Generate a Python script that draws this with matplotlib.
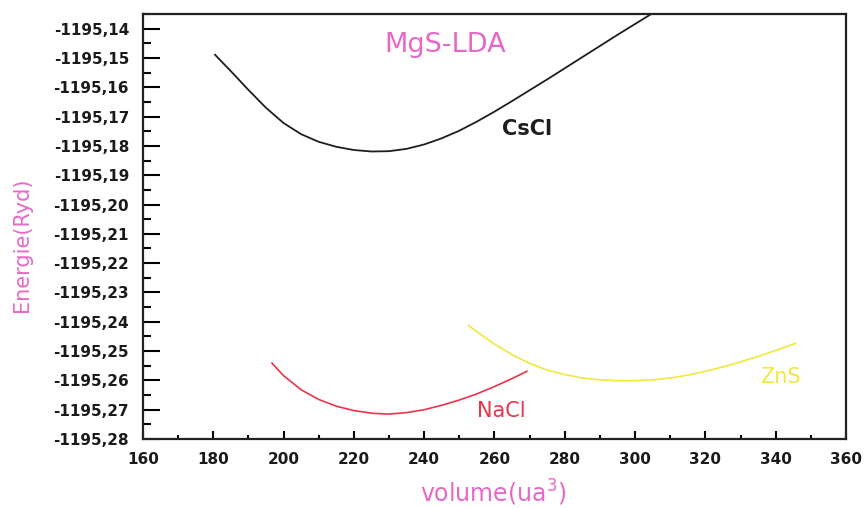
import matplotlib
matplotlib.use("Agg")
import matplotlib.pyplot as plt
from matplotlib.ticker import MultipleLocator, FuncFormatter

plt.rcParams['font.family'] = ['DejaVu Sans']
plt.rcParams['mathtext.default'] = 'regular'

# total energy vs. volume for the three MgS phases (LDA)
vol_cscl = [180.5, 185, 190, 195, 200, 205, 210, 215, 220, 225, 230, 235, 240, 245,
            250, 255, 260, 265, 270, 275, 280, 285, 290, 295, 300, 305]
e_cscl = [-1195.1489, -1195.1545, -1195.1609, -1195.1670, -1195.1722, -1195.1760,
          -1195.1786, -1195.1803, -1195.1814, -1195.1819, -1195.1818, -1195.1810,
          -1195.1795, -1195.1774, -1195.1748, -1195.1717, -1195.1683, -1195.1647,
          -1195.1610, -1195.1573, -1195.1535, -1195.1497, -1195.1459, -1195.1421,
          -1195.1384, -1195.1347]

vol_nacl = [196.7, 200, 205, 210, 215, 220, 225, 230, 235, 240, 245, 250, 255, 260,
            265, 269.2]
e_nacl = [-1195.2541, -1195.2584, -1195.2632, -1195.2665, -1195.2688, -1195.2703,
          -1195.2712, -1195.2715, -1195.2710, -1195.2700, -1195.2685, -1195.2667,
          -1195.2646, -1195.2621, -1195.2594, -1195.2569]

vol_zns = [252.6, 255, 260, 265, 270, 275, 280, 285, 290, 295, 300, 305, 310, 315,
           320, 325, 330, 335, 340, 345.6]
e_zns = [-1195.2412, -1195.2434, -1195.2476, -1195.2512, -1195.2542, -1195.2565,
         -1195.2580, -1195.2592, -1195.2598, -1195.2601, -1195.2601, -1195.2598,
         -1195.2592, -1195.2582, -1195.2569, -1195.2554, -1195.2537, -1195.2518,
         -1195.2498, -1195.2474]

pink = '#e868c8'

fig = plt.figure(figsize=(8.65, 5.08), dpi=100)
ax = fig.add_axes([0.1653, 0.1358, 0.8127, 0.8366])

ax.plot(vol_cscl, e_cscl, color='#1e1e1e', lw=1.3)
ax.plot(vol_nacl, e_nacl, color='#e8344c', lw=1.2)
ax.plot(vol_zns, e_zns, color='#f0e83c', lw=1.2)

ax.set_xlim(160, 360)
ax.set_ylim(-1195.28, -1195.135)

ax.xaxis.set_major_locator(MultipleLocator(20))
ax.xaxis.set_minor_locator(MultipleLocator(10))
ax.yaxis.set_major_locator(MultipleLocator(0.01))
ax.yaxis.set_minor_locator(MultipleLocator(0.005))
ax.yaxis.set_major_formatter(FuncFormatter(lambda v, p: f"{v:.2f}".replace('.', ',')))

ax.tick_params(axis='y', which='major', direction='in', length=12, width=1.5, pad=10)
ax.tick_params(axis='y', which='minor', direction='in', length=6, width=1.5)
ax.tick_params(axis='x', which='major', direction='in', length=6, width=1.5, pad=9)
ax.tick_params(axis='x', which='minor', direction='in', length=3, width=1.5)
for lab in ax.get_xticklabels() + ax.get_yticklabels():
    lab.set_fontweight('bold')
    lab.set_fontsize(11)
    lab.set_color('#1a1a1a')

for side in ax.spines.values():
    side.set_linewidth(1.6)
    side.set_color('#222222')

ax.set_xlabel('volume(ua$^3$)', color=pink, fontsize=17, va='center')
ax.xaxis.set_label_coords(0.498, -0.127)
ax.set_ylabel('Energie(Ryd)', color=pink, fontsize=15, va='center')
ax.yaxis.set_label_coords(-0.172, 0.456)

ax.text(0.4296, 0.927, 'MgS-LDA', transform=ax.transAxes, color=pink,
        fontsize=19.5, ha='center', va='center')
ax.text(269.3, -1195.1742, 'CsCl', color='#1e1e1e', fontsize=15,
        fontweight='bold', ha='center', va='center')
ax.text(261.9, -1195.2704, 'NaCl', color='#e8344c', fontsize=15,
        ha='center', va='center')
ax.text(341.3, -1195.2588, 'ZnS', color='#f0e83c', fontsize=15,
        ha='center', va='center')

fig.savefig('out.png', dpi=100)
